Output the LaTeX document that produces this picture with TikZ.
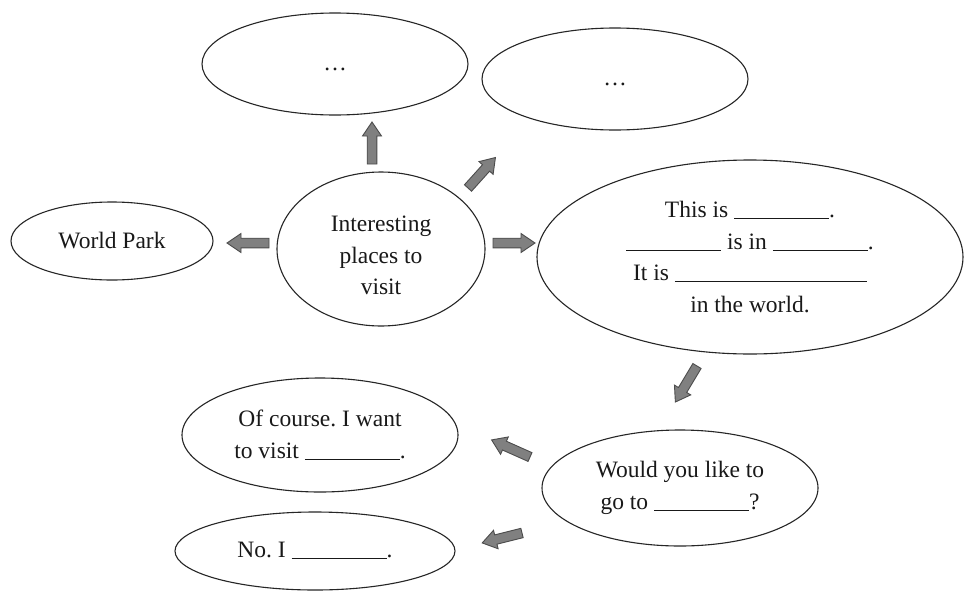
\documentclass[tikz,border=0pt]{standalone}
\usepackage{fontspec}
\setmainfont{Liberation Serif}
\usetikzlibrary{shapes.geometric}
\newcommand{\blankk}[1][95pt]{\rule[-1.5pt]{#1}{1.1pt}}
\begin{document}
\frenchspacing
\begin{tikzpicture}[x=1pt,y=-1pt,
  bubble/.style={ellipse, draw=black!85, line width=1.1pt, fill=white, inner sep=0pt,
    align=center, text=black!90, font=\fontsize{23.5}{31.5}\selectfont},
  blockfill/.style={fill=black!50, draw=black!70, line width=0.9pt, line join=miter},
  pics/blockarr/.style={code={\draw[blockfill] (0,-4.8) -- (#1-14,-4.8) -- (#1-14,-9.5) -- (#1,0)
      -- (#1-14,9.5) -- (#1-14,4.8) -- (0,4.8) -- cycle;}}
]
\fill[white] (0,0) rectangle (966,592);
\useasboundingbox (0,0) rectangle (966,592);

\node[bubble, minimum width=266pt, minimum height=102pt] (tl) at (335,64) {\strut\dots};
\node[bubble, minimum width=266pt, minimum height=102pt] (tr) at (615,79) {\strut\dots};
\node[bubble, minimum width=202pt, minimum height=78pt] (wp) at (112,241) {World Park};
\node[bubble, minimum width=208pt, minimum height=154pt] (ip) at (381,249)
  {\raisebox{-14pt}[0pt][0pt]{\begin{tabular}{@{}c@{}}Interesting\\places to\\visit\end{tabular}}};
\node[bubble, minimum width=426pt, minimum height=194pt] (ti) at (750,257)
  {This is \blankk.\\\blankk{} is in \blankk.\\It is \blankk[192pt]\\in the world.};
\node[bubble, minimum width=276pt, minimum height=114pt] (oc) at (320,435) {Of course. I want\\to visit \blankk.};
\node[bubble, minimum width=276pt, minimum height=116pt] (wy) at (680,488) {Would you like to\\go to \blankk?};
\node[bubble, minimum width=280pt, minimum height=78pt] (no) at (315,551) {No. I \blankk.};

\coordinate (a1) at (372,164);
\coordinate (a2) at (468,188);
\coordinate (a3) at (269,243);
\coordinate (a4) at (493,243);
\coordinate (a5) at (697,366);
\coordinate (a6) at (530,457);
\coordinate (a7) at (522,533);
\pic[rotate=90] at (a1) {blockarr=42};
\pic[rotate=48] at (a2) {blockarr=41};
\pic[rotate=180] at (a3) {blockarr=42};
\pic[rotate=0] at (a4) {blockarr=42};
\pic[rotate=239] at (a5) {blockarr=42};
\pic[rotate=156] at (a6) {blockarr=42};
\pic[rotate=194] at (a7) {blockarr=41};
\end{tikzpicture}
\end{document}
